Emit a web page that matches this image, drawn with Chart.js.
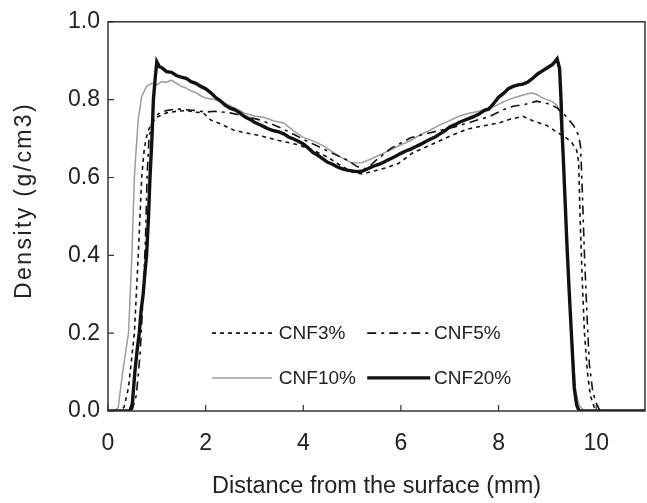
<!DOCTYPE html>
<html>
<head>
<meta charset="utf-8">
<script src="https://cdn.jsdelivr.net/npm/chart.js@4/dist/chart.umd.min.js"></script>
<style>
html,body{margin:0;padding:0;background:#fff;}
#wrap{width:647px;height:503px;}
</style>
</head>
<body>
<div id="wrap"><canvas id="c" width="647" height="503"></canvas></div>
<script>
// ---- data ----
const seriesNames = ["CNF3%", "CNF5%", "CNF10%", "CNF20%"];
const xTicks = [0, 2, 4, 6, 8, 10];
const yTicks = [0, 0.2, 0.4, 0.6, 0.8, 1.0];
const xTitle = "Distance from the surface (mm)";
const yTitle = "Density (g/cm3)";

const cnf3X = [0, 0.25, 0.33, 0.42, 0.54, 0.62, 0.69, 0.74, 0.78, 0.84,
  0.9, 1.0, 1.2, 1.4, 1.6, 1.8, 1.95, 2.1, 2.3, 2.57,
  2.8, 3.1, 3.5, 3.9, 4.2, 4.5, 4.8, 5.0, 5.2, 5.4,
  5.7, 5.95, 6.25, 6.6, 7.0, 7.35, 7.7, 8.0, 8.25, 8.5,
  8.7, 9.0, 9.2, 9.36, 9.5, 9.6, 9.64, 9.67, 9.71, 9.76,
  9.82, 9.88, 9.96, 10.02, 11];
const cnf3Y = [0, 0, 0.01, 0.06, 0.2, 0.4, 0.6, 0.67, 0.7, 0.725,
  0.74, 0.755, 0.766, 0.77, 0.772, 0.768, 0.766, 0.748, 0.738, 0.722,
  0.715, 0.708, 0.695, 0.684, 0.67, 0.652, 0.628, 0.614, 0.609, 0.615,
  0.625, 0.636, 0.664, 0.683, 0.706, 0.724, 0.733, 0.74, 0.75, 0.757,
  0.746, 0.733, 0.716, 0.704, 0.69, 0.67, 0.64, 0.5, 0.35, 0.2,
  0.1, 0.04, 0.01, 0, 0];

const cnf5X = [0, 0.4, 0.5, 0.58, 0.66, 0.72, 0.77, 0.8, 0.84, 0.9,
  0.95, 1.05, 1.2, 1.4, 1.6, 1.8, 2.0, 2.2, 2.5, 2.8,
  3.1, 3.4, 3.7, 4.0, 4.3, 4.6, 4.9, 5.1, 5.3, 5.5,
  5.8, 6.2, 6.6, 7.1, 7.5, 7.8, 8.1, 8.3, 8.55, 8.78,
  9.0, 9.2, 9.4, 9.54, 9.64, 9.68, 9.72, 9.76, 9.81, 9.86,
  9.93, 10.0, 10.08, 11];
const cnf5Y = [0, 0, 0.005, 0.04, 0.15, 0.3, 0.45, 0.6, 0.7, 0.74,
  0.755, 0.765, 0.772, 0.776, 0.774, 0.772, 0.768, 0.77, 0.766, 0.758,
  0.748, 0.735, 0.718, 0.698, 0.68, 0.662, 0.645, 0.628, 0.622, 0.645,
  0.675, 0.702, 0.715, 0.73, 0.745, 0.756, 0.774, 0.783, 0.788, 0.796,
  0.79, 0.779, 0.755, 0.733, 0.708, 0.68, 0.55, 0.4, 0.25, 0.12,
  0.05, 0.02, 0, 0];

const cnf10X = [0, 0.15, 0.21, 0.3, 0.42, 0.49, 0.54, 0.57, 0.62, 0.69,
  0.79, 0.9, 1.0, 1.1, 1.2, 1.3, 1.4, 1.5, 1.6, 1.7,
  1.8, 1.9, 2.0, 2.2, 2.4, 2.6, 2.8, 3.0, 3.2, 3.4,
  3.6, 3.8, 4.0, 4.2, 4.4, 4.6, 4.8, 5.0, 5.2, 5.4,
  5.6, 5.8, 6.0, 6.2, 6.4, 6.6, 6.8, 7.0, 7.2, 7.4,
  7.6, 7.8, 8.0, 8.2, 8.4, 8.6, 8.7, 8.8, 8.9, 9.0,
  9.1, 9.2, 9.25, 9.3, 9.35, 9.4, 9.5, 9.58, 9.65, 9.75,
  10, 11];
const cnf10Y = [0, 0, 0.01, 0.1, 0.2, 0.4, 0.6, 0.66, 0.75, 0.808,
  0.834, 0.842, 0.838, 0.846, 0.845, 0.85, 0.842, 0.834, 0.83, 0.822,
  0.818, 0.81, 0.804, 0.8, 0.79, 0.778, 0.765, 0.758, 0.754, 0.745,
  0.74, 0.72, 0.703, 0.694, 0.682, 0.666, 0.65, 0.637, 0.638, 0.648,
  0.66, 0.672, 0.684, 0.695, 0.71, 0.722, 0.735, 0.746, 0.758, 0.765,
  0.77, 0.776, 0.788, 0.8, 0.808, 0.815, 0.817, 0.812, 0.804, 0.8,
  0.795, 0.785, 0.77, 0.7, 0.57, 0.44, 0.19, 0.05, 0.015, 0,
  0, 0];

const cnf20X = [0, 0.3, 0.45, 0.5, 0.55, 0.6, 0.64, 0.68, 0.72, 0.76,
  0.79, 0.83, 0.86, 0.9, 0.93, 0.97, 1.0, 1.05, 1.1, 1.2,
  1.3, 1.4, 1.5, 1.6, 1.7, 1.8, 1.9, 2.0, 2.1, 2.2,
  2.3, 2.4, 2.5, 2.6, 2.7, 2.8, 2.9, 3.0, 3.1, 3.2,
  3.3, 3.4, 3.5, 3.6, 3.7, 3.8, 3.9, 4.0, 4.1, 4.2,
  4.3, 4.4, 4.5, 4.6, 4.7, 4.8, 4.9, 5.0, 5.1, 5.2,
  5.3, 5.4, 5.5, 5.6, 5.7, 5.8, 5.9, 6.0, 6.1, 6.2,
  6.3, 6.4, 6.5, 6.6, 6.7, 6.8, 6.9, 7.0, 7.1, 7.2,
  7.3, 7.4, 7.5, 7.6, 7.7, 7.8, 7.9, 8.0, 8.1, 8.2,
  8.3, 8.4, 8.5, 8.6, 8.7, 8.8, 8.9, 9.0, 9.1, 9.15,
  9.2, 9.25, 9.28, 9.3, 9.33, 9.36, 9.4, 9.45, 9.5, 9.55,
  9.6, 9.65, 9.8, 10, 11];
const cnf20Y = [0, 0, 0, 0.02, 0.1, 0.16, 0.2, 0.26, 0.3, 0.36,
  0.4, 0.5, 0.6, 0.7, 0.8, 0.86, 0.897, 0.885, 0.882, 0.872,
  0.87, 0.862, 0.858, 0.855, 0.846, 0.842, 0.834, 0.828, 0.818, 0.806,
  0.797, 0.786, 0.778, 0.774, 0.766, 0.756, 0.75, 0.742, 0.736, 0.73,
  0.724, 0.72, 0.717, 0.712, 0.704, 0.699, 0.693, 0.686, 0.676, 0.664,
  0.657, 0.648, 0.639, 0.634, 0.627, 0.622, 0.619, 0.617, 0.615, 0.616,
  0.621, 0.627, 0.632, 0.636, 0.643, 0.649, 0.655, 0.662, 0.668, 0.673,
  0.679, 0.685, 0.692, 0.698, 0.704, 0.712, 0.72, 0.73, 0.735, 0.742,
  0.747, 0.752, 0.757, 0.763, 0.772, 0.776, 0.79, 0.806, 0.816, 0.828,
  0.834, 0.838, 0.84, 0.845, 0.855, 0.866, 0.874, 0.882, 0.89, 0.897,
  0.905, 0.88, 0.8, 0.72, 0.64, 0.55, 0.43, 0.3, 0.18, 0.06,
  0.015, 0, 0, 0, 0];

// ---- build chart ----
function pairs(xs, ys) { return xs.map((x, i) => ({ x: x, y: ys[i] })); }

const styles = [
  { color: '#111', width: 1.6, dash: [4, 4], order: 1 },
  { color: '#111', width: 1.6, dash: [9, 5, 3, 5], order: 2 },
  { color: '#9c9c9c', width: 1.5, dash: [], order: 3 },
  { color: '#111', width: 3.4, dash: [], order: 0 }
];
const xsAll = [cnf3X, cnf5X, cnf10X, cnf20X];
const ysAll = [cnf3Y, cnf5Y, cnf10Y, cnf20Y];

const datasets = seriesNames.map((n, i) => ({
  label: n,
  data: pairs(xsAll[i], ysAll[i]),
  showLine: true,
  borderColor: styles[i].color,
  borderWidth: styles[i].width,
  borderDash: styles[i].dash,
  pointRadius: 0,
  tension: 0,
  order: styles[i].order
}));

const TEXT = '#222';
const FONT = "'Liberation Sans', Arial, sans-serif";

const framePlugin = {
  id: 'frame',
  afterDraw(chart) {
    const { ctx, chartArea: a, scales } = chart;
    ctx.save();
    ctx.strokeStyle = '#333';
    ctx.lineWidth = 1.5;
    ctx.setLineDash([]);
    ctx.strokeRect(a.left, a.top, a.right - a.left, a.bottom - a.top);
    ctx.lineWidth = 1.2;
    ctx.beginPath();
    xTicks.forEach(v => {
      const p = scales.x.getPixelForValue(v);
      ctx.moveTo(p, a.bottom); ctx.lineTo(p, a.bottom - 6);
    });
    yTicks.forEach(v => {
      const p = scales.y.getPixelForValue(v);
      ctx.moveTo(a.left, p); ctx.lineTo(a.left + 6, p);
    });
    ctx.stroke();

    // y-axis title (drawn with letter spacing to match the reference)
    ctx.save();
    ctx.fillStyle = TEXT;
    ctx.font = "23px " + FONT;
    try { ctx.letterSpacing = '2.4px'; } catch (e) {}
    ctx.textAlign = 'center';
    ctx.textBaseline = 'middle';
    ctx.translate(25, (a.top + a.bottom) / 2 - 16);
    ctx.rotate(-Math.PI / 2);
    ctx.fillText(yTitle, 0, 0);
    ctx.restore();

    // legend (inside plot, 2x2)
    const items = [
      { i: 0, x0: 2.13, x1: 3.36, tx: 3.5, y: 0.2 },
      { i: 1, x0: 5.31, x1: 6.6, tx: 6.68, y: 0.2 },
      { i: 2, x0: 2.13, x1: 3.36, tx: 3.5, y: 0.085 },
      { i: 3, x0: 5.31, x1: 6.6, tx: 6.68, y: 0.085 }
    ];
    ctx.font = "19px " + FONT;
    ctx.textBaseline = 'middle';
    ctx.textAlign = 'left';
    items.forEach(it => {
      const s = styles[it.i];
      const py = scales.y.getPixelForValue(it.y);
      ctx.strokeStyle = s.color;
      ctx.lineWidth = s.width;
      ctx.setLineDash(s.dash);
      ctx.beginPath();
      ctx.moveTo(scales.x.getPixelForValue(it.x0), py);
      ctx.lineTo(scales.x.getPixelForValue(it.x1), py);
      ctx.stroke();
      ctx.setLineDash([]);
      ctx.fillStyle = TEXT;
      ctx.fillText(seriesNames[it.i], scales.x.getPixelForValue(it.tx), py + 1);
    });
    ctx.restore();
  }
};

new Chart(document.getElementById('c'), {
  type: 'scatter',
  data: { datasets: datasets },
  options: {
    responsive: false,
    animation: false,
    devicePixelRatio: 1,
    layout: { padding: { top: 14, right: 2, left: 0, bottom: 0 } },
    plugins: { legend: { display: false }, tooltip: { enabled: false } },
    scales: {
      x: {
        type: 'linear', min: 0, max: 11,
        afterFit: s => { s.height = 92; },
        border: { display: false },
        grid: { display: false, drawTicks: false },
        ticks: {
          stepSize: 2, includeBounds: false, padding: 19,
          color: TEXT, font: { family: FONT, size: 23 },
          maxRotation: 0
        },
        title: {
          display: true, text: xTitle,
          color: TEXT, font: { family: FONT, size: 23.5 },
          padding: { top: 0, bottom: 2 }
        }
      },
      y: {
        type: 'linear', min: 0, max: 1,
        afterFit: s => { s.width = 108; },
        border: { display: false },
        grid: { display: false, drawTicks: false },
        ticks: {
          stepSize: 0.2, padding: 8,
          color: TEXT, font: { family: FONT, size: 23 },
          callback: v => Number(v).toFixed(1)
        },
        title: { display: false, text: yTitle }
      }
    }
  },
  plugins: [framePlugin]
});
</script>
</body>
</html>
